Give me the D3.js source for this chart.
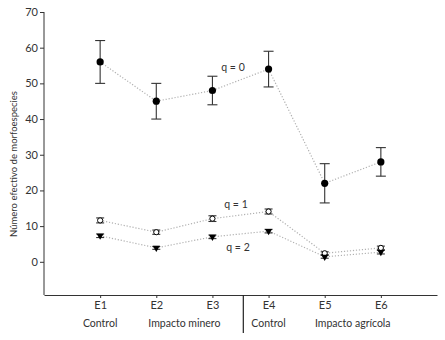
<!DOCTYPE html>
<html>
<head>
<meta charset="utf-8">
<script src="https://cdn.jsdelivr.net/npm/d3@7"></script>
<style>
body{margin:0;background:#fff}
text{font-family:Lato,"Open Sans",sans-serif;fill:#333}
</style>
</head>
<body>
<div id="chart"></div>
<script>
(function(){

var sites = ["E1","E2","E3","E4","E5","E6"]
var groups = [{name:"Control",from:0,to:0},{name:"Impacto minero",from:1,to:2},
              {name:"Control",from:3,to:3},{name:"Impacto agrícola",from:4,to:5}]
var yticks = [0,10,20,30,40,50,60,70]

var q0 = [56,45,48,54,22,28]
var q0_lo = [50,40,44,49,16.5,24]
var q0_hi = [62,50,52,59,27.5,32]

var q1 = [11.6,8.3,12.1,14.1,2.4,3.9]
var q1_err = [0.7,0.6,0.8,0.7,0.4,0.5]

var q2 = [7.3,3.9,7.0,8.6,1.4,2.7]
var q2_err = [0.5,0.4,0.5,0.5,0.4,0.5]

var width = 445, height = 340
var fs = "10.5px"

var svg = d3.select("#chart").append("svg")
	.attr("width",width)
	.attr("height",height)

var x = d3.scaleLinear().domain([0,7]).range([44,437])
var y = d3.scaleLinear().domain([-9.3,70]).range([295,12])

// axes
svg.append("g")
	.attr("transform","translate(44,0)")
	.call(d3.axisLeft(y).tickValues(yticks).tickSize(4).tickSizeOuter(0))
	.call(function(g){
		g.select(".domain").attr("d","M0,"+y(70)+"V295").attr("stroke","#333")
		g.selectAll(".tick line").attr("stroke","#333")
		g.selectAll("text").style("font-size","11px").attr("x",-6).attr("fill","#333")
	})

svg.append("g")
	.attr("transform","translate(0,295)")
	.call(d3.axisBottom(x).tickValues([1,2,3,4,5,6]).tickFormat(function(d){return sites[d-1]}).tickSize(3).tickSizeOuter(0))
	.call(function(g){
		g.select(".domain").attr("stroke","#333")
		g.selectAll(".tick line").attr("stroke","#333")
		g.selectAll("text").style("font-size","11px").attr("y",6).attr("fill","#333")
	})

// divider between mining and second control
svg.append("line")
	.attr("x1",x(3.55)).attr("x2",x(3.55))
	.attr("y1",295).attr("y2",333)
	.attr("stroke","#222").attr("stroke-width",1.2)

svg.selectAll(".grp").data(groups).enter()
	.append("text").attr("class","grp")
	.text(function(d){return d.name})
	.attr("x",function(d){return x((d.from+d.to)/2+1)})
	.attr("y",327)
	.attr("text-anchor","middle")
	.attr("fill","#333")
	.style("font-size",fs)

svg.append("text")
	.text("Número efectivo de morfoespecies")
	.attr("transform","translate(17,164) rotate(-90)")
	.attr("text-anchor","middle")
	.attr("fill","#333")
	.style("font-size","9.5px")

var line = d3.line().x(function(d,i){return x(i+1)}).y(function(d){return y(d)})

;[q0,q1,q2].forEach(function(s){
	svg.append("path").datum(s)
		.attr("d",line)
		.attr("fill","none")
		.attr("stroke","#b0b0b0")
		.attr("stroke-width",1.2)
		.attr("stroke-dasharray","1.2,1.8")
})

function errbars(lo,hi,cap){
	var g = svg.append("g").attr("stroke","#333").attr("stroke-width",1.1)
	sites.forEach(function(s,i){
		g.append("line").attr("x1",x(i+1)).attr("x2",x(i+1)).attr("y1",y(lo[i])).attr("y2",y(hi[i]))
		g.append("line").attr("x1",x(i+1)-cap).attr("x2",x(i+1)+cap).attr("y1",y(lo[i])).attr("y2",y(lo[i]))
		g.append("line").attr("x1",x(i+1)-cap).attr("x2",x(i+1)+cap).attr("y1",y(hi[i])).attr("y2",y(hi[i]))
	})
}

errbars(q0_lo,q0_hi,5)
errbars(q1.map(function(d,i){return d-q1_err[i]}),q1.map(function(d,i){return d+q1_err[i]}),4)
errbars(q2.map(function(d,i){return d-q2_err[i]}),q2.map(function(d,i){return d+q2_err[i]}),4)

svg.selectAll(".p0").data(q0).enter().append("circle")
	.attr("cx",function(d,i){return x(i+1)})
	.attr("cy",function(d){return y(d)})
	.attr("r",3.6).attr("fill","#000")

svg.selectAll(".p1").data(q1).enter().append("circle")
	.attr("cx",function(d,i){return x(i+1)})
	.attr("cy",function(d){return y(d)})
	.attr("r",2.6).attr("fill","#fff").attr("stroke","#000").attr("stroke-width",1)

var tri = d3.symbol().type(d3.symbolTriangle).size(22)
svg.selectAll(".p2").data(q2).enter().append("path")
	.attr("d",tri)
	.attr("transform",function(d,i){return "translate("+x(i+1)+","+y(d)+") rotate(180)"})
	.attr("fill","#000")

var labels = [{t:"q = 0",x:233,y:71},{t:"q = 1",x:236,y:208},{t:"q = 2",x:238,y:251}]
svg.selectAll(".ql").data(labels).enter().append("text")
	.text(function(d){return d.t})
	.attr("x",function(d){return d.x})
	.attr("y",function(d){return d.y})
	.attr("text-anchor","middle")
	.attr("fill","#333")
	.style("font-size",fs)

})()
</script>
</body>
</html>
